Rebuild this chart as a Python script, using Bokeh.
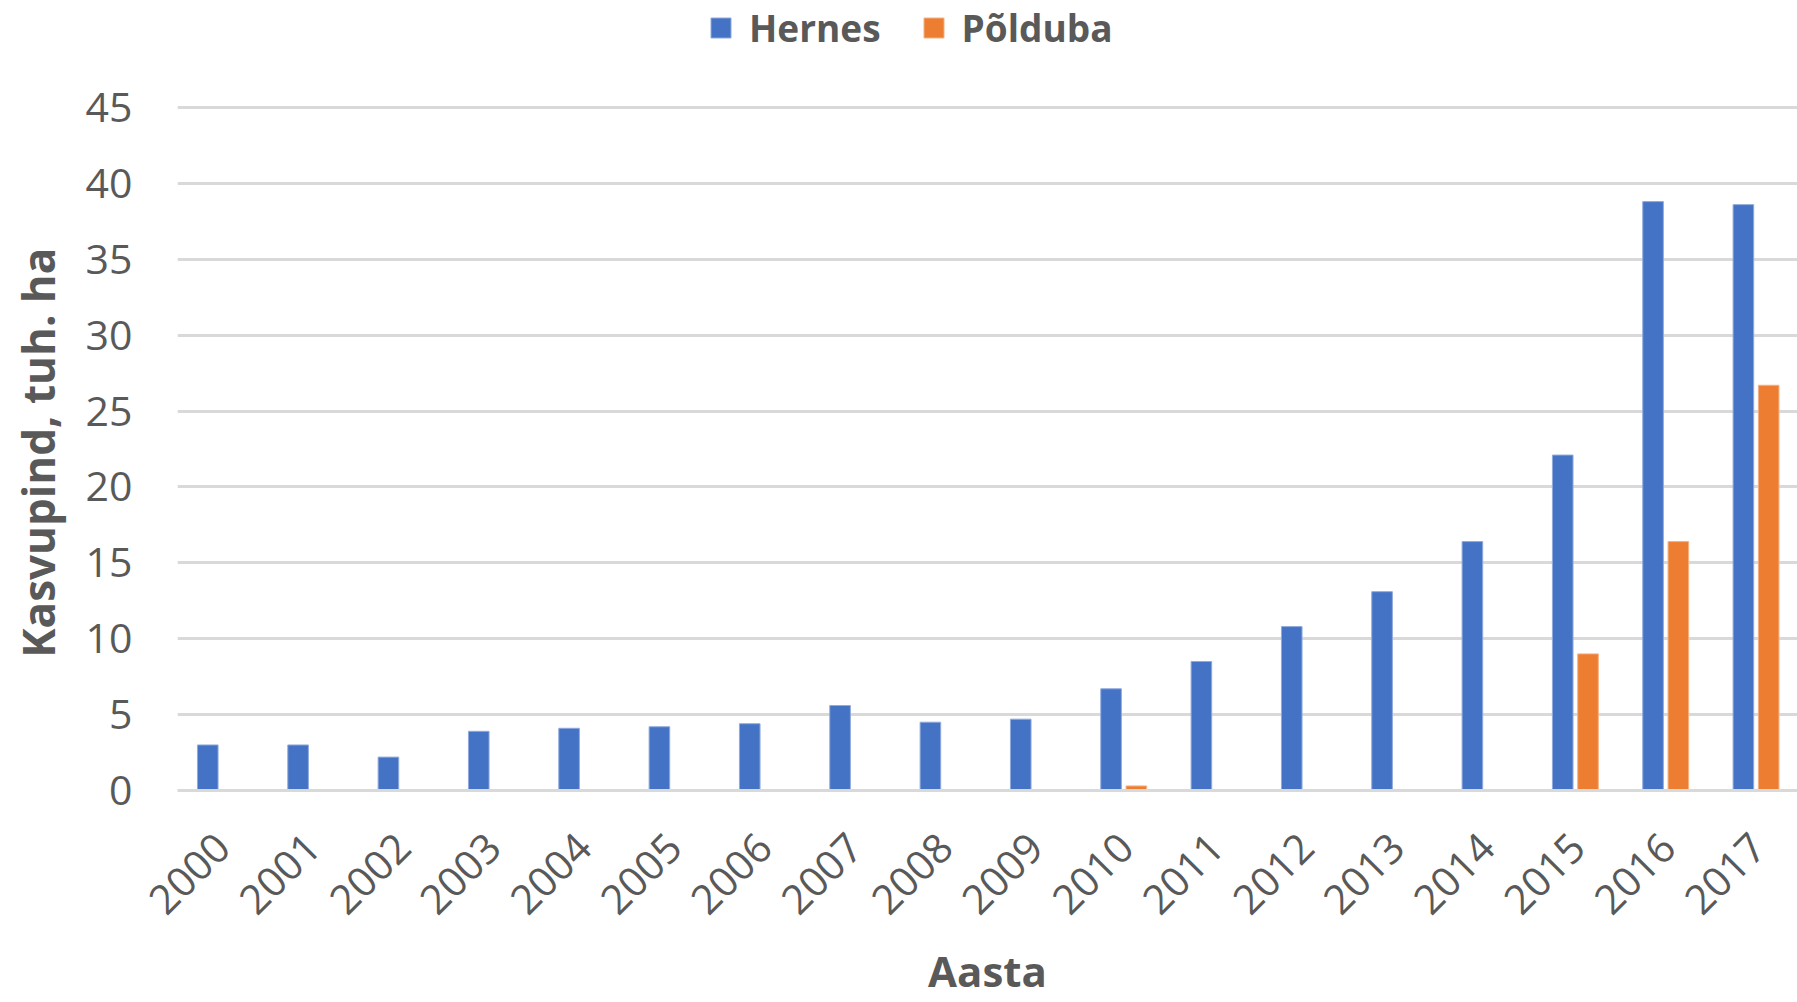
import math
from bokeh.plotting import figure
from bokeh.models import Range1d, FixedTicker, Legend, LegendItem, ColumnDataSource
from bokeh.embed import file_html
from bokeh.resources import INLINE

years = ["2000", "2001", "2002", "2003", "2004", "2005", "2006", "2007", "2008",
         "2009", "2010", "2011", "2012", "2013", "2014", "2015", "2016", "2017"]
hernes = [3.0, 3.0, 2.2, 3.9, 4.1, 4.2, 4.4, 5.6, 4.5, 4.7, 6.7, 8.5, 10.8, 13.1, 16.4, 22.1, 38.8, 38.6]
polduba = [0, 0, 0, 0, 0, 0, 0, 0, 0, 0, 0.3, 0, 0, 0, 0, 9.0, 16.4, 26.7]
y_ticks = [0, 5, 10, 15, 20, 25, 30, 35, 40, 45]
series_names = ["Hernes", "Põlduba"]
x_title = "Aasta"
y_title = "Kasvupind, tuh. ha"
colors = ["#4472C4", "#ED7D31"]

TEXT = "#595959"
GRID = "#D9D9D9"

idx = list(range(len(years)))
src = ColumnDataSource(dict(
    pos=idx,
    x_h=[i - 0.165 for i in idx],
    x_p=[i + 0.115 for i in idx],
    hernes=hernes,
    polduba=polduba,
))

# plot frame reaches the top of the page; the extra headroom above 45 holds the legend
p = figure(width=1797, height=1002, output_backend="svg", toolbar_location=None,
           title=None,
           x_range=Range1d(-0.5, 17.434), y_range=Range1d(0, 52.05),
           min_border_left=177, min_border_right=0, min_border_top=0,
           min_border_bottom=212, background_fill_color="white",
           border_fill_color="white", outline_line_color=None)

r1 = p.vbar(x="x_h", top="hernes", width=0.228, source=src, fill_color=colors[0],
            line_color="#8FAADC", line_width=1)
r2 = p.vbar(x="x_p", top="polduba", width=0.228, source=src, fill_color=colors[1],
            line_color="#F4B183", line_width=1)

# axes
p.xaxis.ticker = FixedTicker(ticks=idx)
p.xaxis.major_label_overrides = {i: y for i, y in zip(idx, years)}
p.xaxis.major_label_orientation = math.pi / 4
p.xaxis.major_tick_line_color = None
p.xaxis.minor_tick_line_color = None
p.xaxis.axis_line_color = GRID
p.xaxis.axis_line_width = 3
p.xaxis.major_label_text_font = "Open Sans"
p.xaxis.major_label_text_font_size = "41px"
p.xaxis.major_label_text_color = TEXT
p.xaxis.major_label_standoff = 44
p.xaxis.axis_label = x_title
p.xaxis.axis_label_text_font = "Open Sans"
p.xaxis.axis_label_text_font_style = "bold"
p.xaxis.axis_label_text_font_size = "42px"
p.xaxis.axis_label_text_color = TEXT
p.xaxis.axis_label_standoff = 12

p.yaxis.ticker = FixedTicker(ticks=y_ticks)
p.yaxis.bounds = (0, 45)
p.yaxis.major_tick_line_color = None
p.yaxis.minor_tick_line_color = None
p.yaxis.axis_line_color = None
p.yaxis.major_label_text_font = "Open Sans"
p.yaxis.major_label_text_font_size = "41px"
p.yaxis.major_label_text_color = TEXT
p.yaxis.major_label_standoff = 39
# trailing no-break spaces move the centred title down to the middle of the 0-45 span
p.yaxis.axis_label = y_title + "\u00a0" * 10
p.yaxis.axis_label_text_font = "Open Sans"
p.yaxis.axis_label_text_font_style = "bold"
p.yaxis.axis_label_text_font_size = "44px"
p.yaxis.axis_label_text_color = TEXT
p.yaxis.axis_label_standoff = 15

p.xgrid.grid_line_color = None
p.ygrid.grid_line_color = GRID
p.ygrid.grid_line_width = 3

legend = Legend(items=[LegendItem(label=series_names[0], renderers=[r1]),
                       LegendItem(label=series_names[1], renderers=[r2])],
                orientation="horizontal", location=(531, 737),
                padding=0, margin=0, spacing=40, label_standoff=16,
                glyph_width=25, glyph_height=25,
                border_line_color=None, background_fill_alpha=0,
                label_text_font="Open Sans", label_text_font_style="bold",
                label_text_font_size="37px", label_text_color=TEXT)
p.add_layout(legend, "center")

open("out.html", "w").write(file_html(p, INLINE))
